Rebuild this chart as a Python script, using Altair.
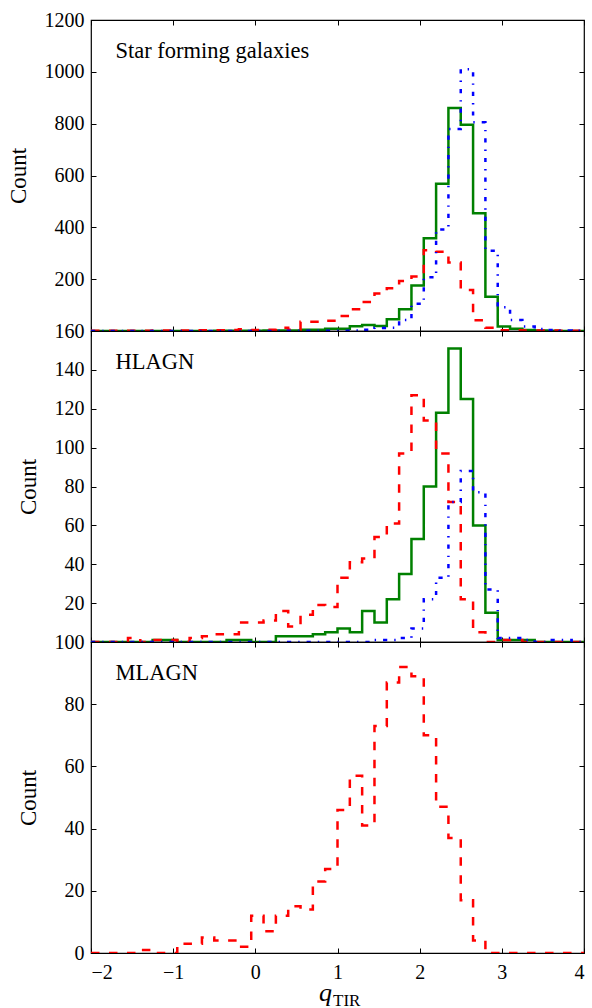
import altair as alt
import pandas as pd

# Histogram bin edges (shared by all series), q_TIR
BIN_EDGES = [-2.0, -1.85, -1.7, -1.55, -1.4, -1.25, -1.1, -0.95, -0.8, -0.65,
             -0.5, -0.35, -0.2, -0.05, 0.1, 0.25, 0.4, 0.55, 0.7, 0.85,
             1.0, 1.15, 1.3, 1.45, 1.6, 1.75, 1.9, 2.05, 2.2, 2.35,
             2.5, 2.65, 2.8, 2.95, 3.1, 3.25, 3.4, 3.55, 3.7, 3.85, 4.0]

# Star forming galaxies
SFG_GREEN = [0, 0, 0, 0, 0, 0, 0, 0, 0, 0, 1, 1, 1, 1, 2, 2, 2, 5, 5, 9,
             9, 18, 23, 19, 45, 84, 176, 358, 568, 860, 796, 454, 132, 17, 9, 4, 2, 1, 0, 0]
SFG_RED = [1, 1, 1, 1, 1, 2, 2, 2, 3, 3, 3, 4, 7, 4, 5, 13, 5, 36, 36, 40,
           58, 84, 112, 145, 165, 193, 210, 312, 306, 264, 158, 41, 13, 3, 3, 2, 2, 2, 1, 1]
SFG_BLUE = [0, 0, 0, 0, 0, 0, 0, 0, 0, 0, 0, 0, 0, 0, 0, 1, 1, 1, 1, 1,
            1, 2, 5, 12, 13, 42, 105, 207, 392, 779, 1010, 805, 310, 92, 42, 17, 8, 4, 2, 1]

# HLAGN
HLAGN_GREEN = [0, 0, 0, 0, 0, 1, 1, 0, 0, 0, 0, 1, 1, 0, 0, 3, 3, 3, 4, 5,
               7, 5, 16, 10, 22, 35, 53, 80, 118, 151, 125, 60, 15, 1, 1, 1, 0, 0, 0, 0]
HLAGN_RED = [0, 0, 0, 2, 0, 1, 1, 0, 2, 3, 4, 4, 10, 10, 11, 16, 8, 14, 19, 18,
             33, 41, 43, 54, 61, 97, 127, 114, 97, 72, 22, 5, 0, 1, 1, 0, 0, 0, 0, 0]
HLAGN_BLUE = [0, 0, 0, 0, 0, 0, 0, 0, 0, 0, 0, 0, 0, 0, 0, 0, 0, 0, 0, 0,
              0, 0, 0, 1, 1, 2, 7, 22, 33, 72, 88, 77, 27, 2, 2, 1, 0, 1, 1, 0]

# MLAGN
MLAGN_RED = [0, 0, 0, 0, 1, 0, 0, 3, 3, 5, 4, 4, 2, 12, 7, 12, 15, 14, 23, 27,
             46, 57, 41, 73, 87, 92, 89, 70, 47, 37, 17, 4, 0, 0, 0, 0, 0, 0, 0, 0]

X_TICKS = [-2, -1, 0, 1, 2, 3, 4]
PANEL_LABELS = ["Star forming galaxies", "HLAGN", "MLAGN"]

FONT = "Liberation Serif"
W, H = 493, 311
GREEN = ("#008000", [])
RED = ("#ff0000", [8.5, 9.5])
BLUE = ("#0000ff", [4.2, 7, 1.4, 7])


def step_frame(counts):
    return pd.DataFrame({
        "q": list(BIN_EDGES),
        "count": list(counts) + [counts[-1]],
        "i": list(range(len(BIN_EDGES))),
    })


def panel(series, ymax, ystep, label, bottom=False):
    xsc = alt.Scale(domain=[-2, 4], nice=False, zero=False)
    ysc = alt.Scale(domain=[0, ymax], nice=False, zero=True)
    start = 0 if bottom else ystep
    yvals = list(range(start, ymax + 1, ystep))

    x_bottom = alt.Axis(orient="bottom", values=X_TICKS, offset=-5, tickSize=5,
                        labels=bottom, labelPadding=9, title=None, domain=False,
                        grid=False, format="d")
    y_left = alt.Axis(orient="left", values=yvals, offset=-5, tickSize=5,
                      labelPadding=7, title="Count", titlePadding=14,
                      domain=False, grid=False, format="d")
    x_top = alt.Axis(orient="top", values=X_TICKS, offset=-5, tickSize=5,
                     labels=False, title=None, domain=False, grid=False)
    y_right = alt.Axis(orient="right", values=yvals, offset=-5, tickSize=5,
                       labels=False, title=None, domain=False, grid=False)

    layers = []
    for n, (counts, (color, dash)) in enumerate(series):
        mk = dict(interpolate="step-after", color=color, strokeWidth=2.5, clip=True)
        if dash:
            mk["strokeDash"] = dash
        layers.append(
            alt.Chart(step_frame(counts)).mark_line(**mk).encode(
                x=alt.X("q:Q", scale=xsc, axis=x_bottom if n == 0 else None),
                y=alt.Y("count:Q", scale=ysc, axis=y_left if n == 0 else None),
                order="i:Q",
            )
        )
    layers.append(
        alt.Chart(step_frame(series[0][0])).mark_line(strokeOpacity=0).encode(
            x=alt.X("q:Q", scale=xsc, axis=x_top),
            y=alt.Y("count:Q", scale=ysc, axis=y_right),
        )
    )
    layers.append(
        alt.Chart(pd.DataFrame({"t": [label]})).mark_text(
            align="left", baseline="alphabetic", font=FONT, fontSize=22.5, color="black"
        ).encode(x=alt.value(24.5), y=alt.value(38), text="t:N")
    )
    if bottom:
        layers.append(
            alt.Chart(pd.DataFrame({"t": ["q"]})).mark_text(
                align="left", baseline="alphabetic", font=FONT, fontSize=26,
                fontStyle="italic", color="black"
            ).encode(x=alt.value(228), y=alt.value(359), text="t:N")
        )
        layers.append(
            alt.Chart(pd.DataFrame({"t": ["TIR"]})).mark_text(
                align="left", baseline="alphabetic", font=FONT, fontSize=17, color="black"
            ).encode(x=alt.value(242), y=alt.value(364), text="t:N")
        )
    return alt.layer(*layers).resolve_axis(x="independent", y="independent").properties(
        width=W, height=H)


p1 = panel([(SFG_GREEN, GREEN), (SFG_RED, RED), (SFG_BLUE, BLUE)], 1200, 200, PANEL_LABELS[0])
p2 = panel([(HLAGN_GREEN, GREEN), (HLAGN_RED, RED), (HLAGN_BLUE, BLUE)], 160, 20, PANEL_LABELS[1])
p3 = panel([(MLAGN_RED, RED)], 100, 20, PANEL_LABELS[2], bottom=True)

chart = alt.vconcat(p1, p2, p3, spacing=0, bounds="flush").properties(
    padding={"left": 6, "top": 9, "right": 2, "bottom": 2}
).configure_view(stroke="black", strokeWidth=1.2).configure_axis(
    labelFont=FONT, labelFontSize=20, labelColor="black",
    titleFont=FONT, titleFontSize=23, titleFontWeight="normal", titleColor="black",
    tickColor="black", tickWidth=1,
)

chart.save("out.html", embed_options={"renderer": "svg", "actions": False})
